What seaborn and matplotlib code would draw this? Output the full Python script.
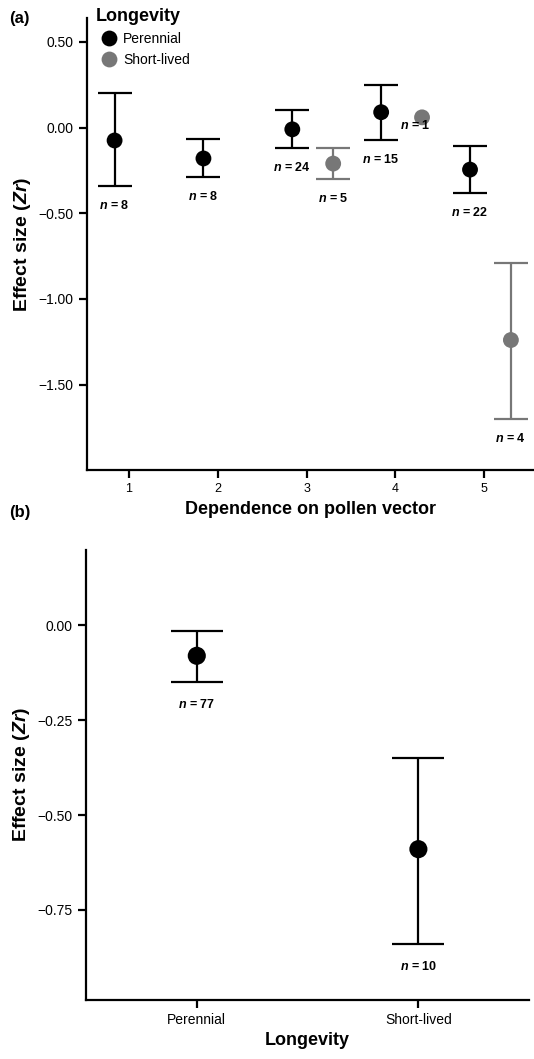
import matplotlib
matplotlib.use("Agg")
import matplotlib.pyplot as plt
import seaborn as sns
import pandas as pd

# panel (a) - effect size by dependence on pollen vector
dependence = [1, 2, 3, 4, 5, 3, 4, 5]
longevity_a = ["Perennial"] * 5 + ["Short-lived"] * 3
zr_a = [-0.075, -0.18, -0.01, 0.09, -0.245, -0.21, 0.06, -1.24]
lo_a = [-0.34, -0.29, -0.12, -0.07, -0.38, -0.30, 0.06, -1.70]
hi_a = [0.20, -0.065, 0.10, 0.25, -0.11, -0.12, 0.06, -0.79]
n_a = [8, 8, 24, 15, 22, 5, 1, 4]

# panel (b) - effect size by longevity
longevity_b = ["Perennial", "Short-lived"]
zr_b = [-0.08, -0.59]
lo_b = [-0.15, -0.84]
hi_b = [-0.015, -0.35]
n_b = [77, 10]

colors = {"Perennial": "black", "Short-lived": "#777777"}
offsets = {"Perennial": -0.16, "Short-lived": 0.3}

sns.set_theme(style="ticks")
plt.rcParams["font.family"] = ["Liberation Sans", "DejaVu Sans"]
plt.rcParams["text.color"] = "black"
plt.rcParams["axes.labelcolor"] = "black"
plt.rcParams["axes.edgecolor"] = "black"
plt.rcParams["xtick.color"] = "black"
plt.rcParams["ytick.color"] = "black"
plt.rcParams["axes.linewidth"] = 1.6
plt.rcParams["xtick.major.width"] = 1.6
plt.rcParams["ytick.major.width"] = 1.6
plt.rcParams["xtick.major.size"] = 6
plt.rcParams["ytick.major.size"] = 6
plt.rcParams["mathtext.fontset"] = "custom"
plt.rcParams["mathtext.bfit"] = "Liberation Sans:bold:italic"
plt.rcParams["mathtext.it"] = "Liberation Sans:italic"
plt.rcParams["mathtext.rm"] = "Liberation Sans"

df_a = pd.DataFrame({"dep": dependence, "Longevity": longevity_a, "zr": zr_a,
                     "lo": lo_a, "hi": hi_a, "n": n_a})
df_a["x"] = df_a["dep"] + df_a["Longevity"].map(offsets)

df_b = pd.DataFrame({"Longevity": longevity_b, "zr": zr_b, "lo": lo_b, "hi": hi_b, "n": n_b})

fig = plt.figure(figsize=(5.34, 10.59), dpi=100)
ax1 = fig.add_axes([0.163, 0.556, 0.837, 0.427])
ax2 = fig.add_axes([0.161, 0.056, 0.83, 0.425])

# --- (a)
for _, r in df_a.iterrows():
    if r["n"] > 1:
        ax1.errorbar(r["x"], r["zr"], yerr=[[r["zr"] - r["lo"]], [r["hi"] - r["zr"]]],
                     fmt="none", ecolor=colors[r["Longevity"]], elinewidth=1.6,
                     capsize=12, capthick=1.6, zorder=1)
sns.scatterplot(data=df_a, x="x", y="zr", hue="Longevity", palette=colors, s=130,
                edgecolor="none", ax=ax1, zorder=3)
for _, r in df_a.iterrows():
    if r["n"] == 1:
        ax1.annotate(r"$\mathbfit{n}$ = %d" % r["n"], (r["x"], r["zr"]), xytext=(-5, -6),
                     textcoords="offset points", ha="center", va="center",
                     fontsize=9, fontweight="bold")
    else:
        ax1.annotate(r"$\mathbfit{n}$ = %d" % r["n"], (r["x"], r["lo"]), xytext=(0, -14),
                     textcoords="offset points", ha="center", va="center",
                     fontsize=9, fontweight="bold")

ax1.set_xlim(0.53, 5.56)
ax1.set_ylim(-2.0, 0.64)
ax1.set_xticks([1, 2, 3, 4, 5])
ax1.set_yticks([0.5, 0.0, -0.5, -1.0, -1.5])
ax1.set_yticklabels(["0.50", "0.00", "\u22120.50", "\u22121.00", "\u22121.50"])
ax1.tick_params(axis="both", labelsize=10)
ax1.tick_params(axis="x", labelsize=9)
ax1.set_xlabel("Dependence on pollen vector", fontsize=13, fontweight="bold")
ax1.set_ylabel(r"Effect size ($\mathbfit{Zr}$)", fontsize=14, fontweight="bold")
sns.despine(ax=ax1)
leg = ax1.legend(title="Longevity", loc="upper left", bbox_to_anchor=(0.0, 1.04),
                 frameon=False, fontsize=10, handletextpad=0.0, borderaxespad=0.2,
                 labelspacing=0.5, markerscale=1.0)
leg.get_title().set_fontweight("bold")
leg.get_title().set_fontsize(13)
leg._legend_box.align = "left"
fig.text(0.018, 0.99, "(a)", fontsize=12, fontweight="bold", va="top")

# --- (b)
ax2.errorbar(df_b["Longevity"], df_b["zr"], yerr=[df_b["zr"] - df_b["lo"], df_b["hi"] - df_b["zr"]],
             fmt="none", ecolor="black", elinewidth=1.6, capsize=19, capthick=1.6, zorder=1)
sns.scatterplot(data=df_b, x="Longevity", y="zr", color="black", s=170, edgecolor="none",
                ax=ax2, zorder=3)
for i, r in df_b.iterrows():
    ax2.annotate(r"$\mathbfit{n}$ = %d" % r["n"], (i, r["lo"]), xytext=(0, -16),
                 textcoords="offset points", ha="center", va="center",
                 fontsize=9, fontweight="bold")
ax2.set_xlim(-0.5, 1.5)
ax2.set_ylim(-0.987, 0.2)
ax2.set_yticks([0.0, -0.25, -0.5, -0.75])
ax2.set_yticklabels(["0.00", "\u22120.25", "\u22120.50", "\u22120.75"])
ax2.tick_params(axis="both", labelsize=10)
ax2.set_xlabel("Longevity", fontsize=13, fontweight="bold")
ax2.set_ylabel(r"Effect size ($\mathbfit{Zr}$)", fontsize=14, fontweight="bold")
sns.despine(ax=ax2)
fig.text(0.018, 0.523, "(b)", fontsize=12, fontweight="bold", va="top")

fig.savefig("out.png", dpi=100)
